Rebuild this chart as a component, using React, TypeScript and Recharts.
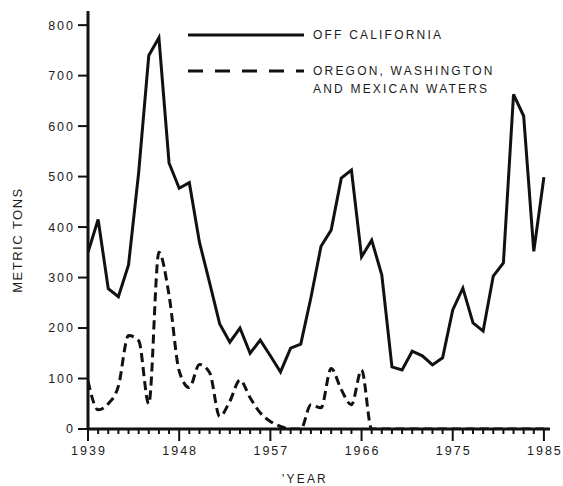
import React from 'react';
import { LineChart, Line, XAxis, YAxis, Legend } from 'recharts';

const years = [
  1939, 1940, 1941, 1942, 1943, 1944, 1945, 1946, 1947, 1948,
  1949, 1950, 1951, 1952, 1953, 1954, 1955, 1956, 1957, 1958,
  1959, 1960, 1961, 1962, 1963, 1964, 1965, 1966, 1967, 1968,
  1969, 1970, 1971, 1972, 1973, 1974, 1975, 1976, 1977, 1978,
  1979, 1980, 1981, 1982, 1983, 1984,
];

const offCalifornia = [
  350, 415, 278, 262, 325, 508, 740, 775, 527, 477,
  488, 370, 290, 208, 172, 200, 150, 176, 145, 113,
  160, 168, 260, 362, 394, 497, 513, 341, 374, 305,
  123, 117, 154, 145, 127, 141, 236, 279, 210, 194,
  303, 329, 663, 620, 352, 499,
];

const oregonWashingtonMexico = [
  95, 38, 50, 85, 185, 175, 50, 350, 265, 115,
  82, 128, 112, 25, 55, 97, 62, 32, 15, 5,
  0, 0, 48, 42, 120, 78, 48, 117, 0, 0,
  0, 0, 0, 0, 0, 0, 0, 0, 0, 0,
  0, 0, 0, 0, 0, 0,
];

const yTicks = [0, 100, 200, 300, 400, 500, 600, 700, 800];
const xMajorYears = [1939, 1948, 1957, 1966, 1975, 1984];
const xMajorLabels = ['1939', '1948', '1957', '1966', '1975', '1985'];
const legendLabels = [['OFF CALIFORNIA'], ['OREGON, WASHINGTON', 'AND MEXICAN WATERS']];
const xAxisTitle = "'YEAR";
const yAxisTitle = 'METRIC TONS';

const data = years.map((year, i) => ({
  year,
  cal: offCalifornia[i],
  other: oregonWashingtonMexico[i],
}));

const FONT = "'Liberation Sans', Arial, Helvetica, sans-serif";
const INK = '#111';
const TEXT = '#1c1c1c';

const XTick = (props: any) => {
  const { x, y, payload } = props;
  const idx = xMajorYears.indexOf(payload.value);
  const major = idx >= 0;
  return (
    <g>
      <line x1={x} x2={x} y1={y} y2={y + (major ? 12 : 5)} stroke={INK} strokeWidth={2} />
      {major && (
        <text
          x={x + 1}
          y={y + 26}
          textAnchor="middle"
          fill={TEXT}
          fontSize={12.5}
          fontFamily={FONT}
          letterSpacing={2}
        >
          {xMajorLabels[idx]}
        </text>
      )}
    </g>
  );
};

const renderLegend = (props: any) => {
  const payload = props.payload || [];
  const rows = [35, 71];
  return (
    <svg width={563} height={100} style={{ display: 'block' }}>
      {payload.map((entry: any, i: number) => {
        const yRow = rows[i] ?? 35 + i * 36;
        const dashed = i === 1;
        const lines = legendLabels[i] || [String(entry.value)];
        return (
          <g key={i}>
            <line
              x1={188}
              x2={304}
              y1={yRow}
              y2={yRow}
              stroke={INK}
              strokeWidth={3}
              strokeDasharray={dashed ? '15 12' : undefined}
            />
            {lines.map((t: string, j: number) => (
              <text
                key={j}
                x={313}
                y={yRow + 4 + j * 18}
                fill={TEXT}
                fontSize={12}
                fontFamily={FONT}
                letterSpacing={2.2}
              >
                {t}
              </text>
            ))}
          </g>
        );
      })}
    </svg>
  );
};

export default function App() {
  return (
    <div style={{ position: 'absolute', left: 0, top: 0, width: 563, height: 486, background: '#fff' }}>
      <LineChart
        width={563}
        height={486}
        data={data}
        margin={{ top: 11, right: 13, left: 0, bottom: 12 }}
        style={{ fontFamily: FONT }}
      >
        <XAxis
          dataKey="year"
          type="number"
          domain={[1939, 1984.6]}
          ticks={years}
          interval={0}
          allowDataOverflow
          height={45}
          tickSize={0}
          tickMargin={0}
          tickLine={false}
          tick={<XTick />}
          axisLine={{ stroke: INK, strokeWidth: 3 }}
          label={(p: any) => {
            const vb = p.viewBox || { x: 88, y: 429, width: 462, height: 45 };
            return (
              <text
                x={vb.x + 217}
                y={vb.y + 54}
                textAnchor="middle"
                fill={TEXT}
                fontSize={12}
                fontFamily={FONT}
                letterSpacing={2.2}
              >
                {xAxisTitle}
              </text>
            );
          }}
        />
        <YAxis
          type="number"
          domain={[0, 828]}
          ticks={yTicks}
          interval={0}
          allowDataOverflow
          width={88}
          tickSize={10}
          tickMargin={3}
          tickLine={{ stroke: INK, strokeWidth: 2 }}
          axisLine={{ stroke: INK, strokeWidth: 3 }}
          tick={{ fill: TEXT, fontSize: 12.5, fontFamily: FONT, letterSpacing: 2 }}
          label={(p: any) => {
            const vb = p.viewBox || { x: 0, y: 11, width: 88, height: 418 };
            const cx = vb.x + 17;
            const cy = vb.y + 229;
            return (
              <text
                x={cx}
                y={cy}
                transform={`rotate(-90 ${cx} ${cy})`}
                textAnchor="middle"
                dominantBaseline="central"
                fill={TEXT}
                fontSize={13}
                fontFamily={FONT}
                letterSpacing={1.5}
              >
                {yAxisTitle}
              </text>
            );
          }}
        />
        <Legend
          layout="vertical"
          align="center"
          verticalAlign="middle"
          wrapperStyle={{ left: 0, top: 0, width: 563, height: 100 }}
          content={renderLegend}
        />
        <Line
          type="linear"
          dataKey="cal"
          name="OFF CALIFORNIA"
          stroke={INK}
          strokeWidth={3}
          dot={false}
          activeDot={false}
          isAnimationActive={false}
        />
        <Line
          type="monotone"
          dataKey="other"
          name="OREGON, WASHINGTON AND MEXICAN WATERS"
          stroke={INK}
          strokeWidth={3}
          strokeDasharray="9 5"
          dot={false}
          activeDot={false}
          isAnimationActive={false}
        />
      </LineChart>
    </div>
  );
}
